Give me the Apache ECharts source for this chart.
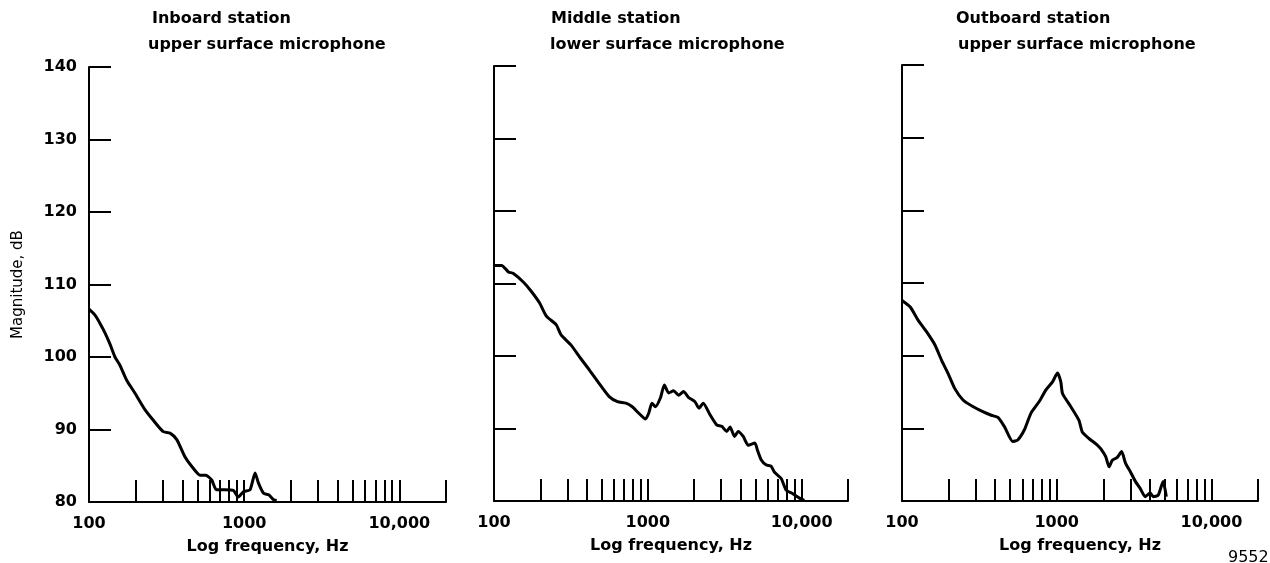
<!DOCTYPE html>
<html>
<head>
<meta charset="utf-8">
<script src="https://cdn.jsdelivr.net/npm/echarts@6/dist/echarts.min.js"></script>
<style>
html,body{margin:0;padding:0;background:#fff;}
#c{width:1270px;height:563px;}
</style>
</head>
<body>
<div id="c"></div>
<script>
// ---- data ----
const panelTitles = ["Inboard station", "Middle station", "Outboard station"];
const panelSubtitles = ["upper surface microphone", "lower surface microphone", "upper surface microphone"];

const inboardFreq = [100,109,118,127,137,147,158,175,198,230,259,301,333,368,416,460,520,566,619,662,751,852,916,989,1092,1176,1237,1334,1440,1550,1620];
const inboardDb   = [106.6,105.8,104.6,103.3,101.7,100.0,98.9,96.8,95.0,92.7,91.3,89.7,89.5,88.6,86.2,84.9,83.7,83.7,83.0,81.7,81.7,81.6,80.7,81.4,81.7,84.0,82.6,81.2,81.0,80.3,80.2];

const middleFreq = [100,112,124,133,155,175,198,219,254,273,317,359,416,483,561,635,719,792,874,965,1013,1063,1120,1206,1280,1366,1470,1584,1706,1835,2024,2149,2291,2536,2800,3020,3256,3424,3660,3866,4170,4495,4960,5160,5450,5863,6320,6640,7360,7930,8760,9670,10400];
const middleDb   = [112.5,112.5,111.6,111.4,110.2,108.9,107.3,105.5,104.3,102.9,101.5,99.9,98.1,96.2,94.4,93.7,93.5,93.0,92.1,91.3,92.1,93.5,93.0,94.2,96.0,94.9,95.2,94.6,95.1,94.3,93.7,92.8,93.5,91.9,90.5,90.3,89.6,90.2,88.9,89.6,88.9,87.7,88.0,87.0,85.7,85.0,84.8,84.0,83.1,81.5,81.0,80.4,80.1];

const outboardFreq = [100,113,127,144,163,180,198,219,248,287,333,378,417,460,519,560,618,682,771,852,940,1012,1063,1090,1232,1393,1463,1616,1830,1924,2074,2178,2287,2461,2627,2784,2997,3225,3470,3735,4020,4210,4530,4873,5110];
const outboardDb   = [107.6,106.7,104.9,103.3,101.5,99.4,97.6,95.5,93.9,93.0,92.3,91.8,91.5,90.2,88.2,88.4,89.8,92.1,93.7,95.3,96.4,97.6,96.4,94.8,93.0,91.1,89.5,88.6,87.7,87.2,86.1,84.7,85.6,86.0,86.8,85.2,84.0,82.7,81.7,80.6,81.1,80.6,80.8,82.7,80.6];

const xTickValues  = [200,300,400,500,600,700,800,900,1000,2000,3000,4000,5000,6000,7000,8000,9000,10000,20000];
const xLabelValues = [100,1000,10000];
const yTickLabels  = [80,90,100,110,120,130,140];

// ---- chart ----
const FONT = "DejaVu Sans";
const grids = [
  {left: 89,  top: 67, width: 357, height: 435},
  {left: 494, top: 66, width: 354, height: 435},
  {left: 902, top: 65, width: 356, height: 436}
];
const seriesData = [
  inboardFreq.map((f,i)=>[f, inboardDb[i]]),
  middleFreq.map((f,i)=>[f, middleDb[i]]),
  outboardFreq.map((f,i)=>[f, outboardDb[i]])
];
const titleLeft = [[152,148],[551,550],[956,958]];

const option = {
  backgroundColor: '#fff',
  animation: false,
  title: [],
  grid: grids,
  xAxis: grids.map((g,i)=>({
    type: 'log', logBase: 10, gridIndex: i, min: 100, max: 20000,
    axisLine: {lineStyle: {color: '#000', width: 2}},
    axisTick: {show: true, inside: true, length: 22, customValues: xTickValues, lineStyle: {color:'#000', width: 2}},
    minorTick: {show: false},
    splitLine: {show: false},
    axisLabel: {customValues: xLabelValues, margin: 14, color: '#000', fontFamily: FONT, fontWeight: 'bold', fontSize: 16,
      formatter: v => (v >= 10000 ? '10,000' : String(Math.round(v)))},
    name: 'Log frequency, Hz', nameLocation: 'middle', nameGap: 37,
    nameTextStyle: {color: '#000', fontFamily: FONT, fontWeight: 'bold', fontSize: 16}
  })),
  yAxis: grids.map((g,i)=>({
    type: 'value', gridIndex: i, min: 80, max: 140, interval: 10,
    axisLine: {show: true, lineStyle: {color: '#000', width: 2}},
    axisTick: {show: true, inside: true, length: 22, lineStyle: {color:'#000', width: 2}},
    splitLine: {show: false},
    axisLabel: {show: i === 0, margin: 12, color: '#000', fontFamily: FONT, fontWeight: 'bold', fontSize: 16,
      formatter: v => yTickLabels.includes(v) ? String(v) : ''},
    name: i === 0 ? 'Magnitude, dB' : '', nameLocation: 'middle', nameGap: 63, nameRotate: 90,
    nameTextStyle: {color: '#000', fontFamily: FONT, fontSize: 15}
  })),
  series: seriesData.map((d,i)=>({
    type: 'line', xAxisIndex: i, yAxisIndex: i, data: d,
    showSymbol: false, smooth: 0.2,
    lineStyle: {color: '#000', width: 3}
  })),
  graphic: [{type:'text', left: 1228, top: 550, style: {text: '9552', fill: '#000', font: '16px "DejaVu Sans"'}}]
};
panelTitles.forEach((t,i)=>{
  option.title.push({text: t, left: titleLeft[i][0], top: 11, padding: 0,
    textStyle: {color:'#000', fontFamily: FONT, fontWeight: 'bold', fontSize: 16}});
  option.title.push({text: panelSubtitles[i], left: titleLeft[i][1], top: 37, padding: 0,
    textStyle: {color:'#000', fontFamily: FONT, fontWeight: 'bold', fontSize: 16}});
});

const chart = echarts.init(document.getElementById('c'), null, {renderer: 'canvas'});
chart.setOption(option);
</script>
</body>
</html>
